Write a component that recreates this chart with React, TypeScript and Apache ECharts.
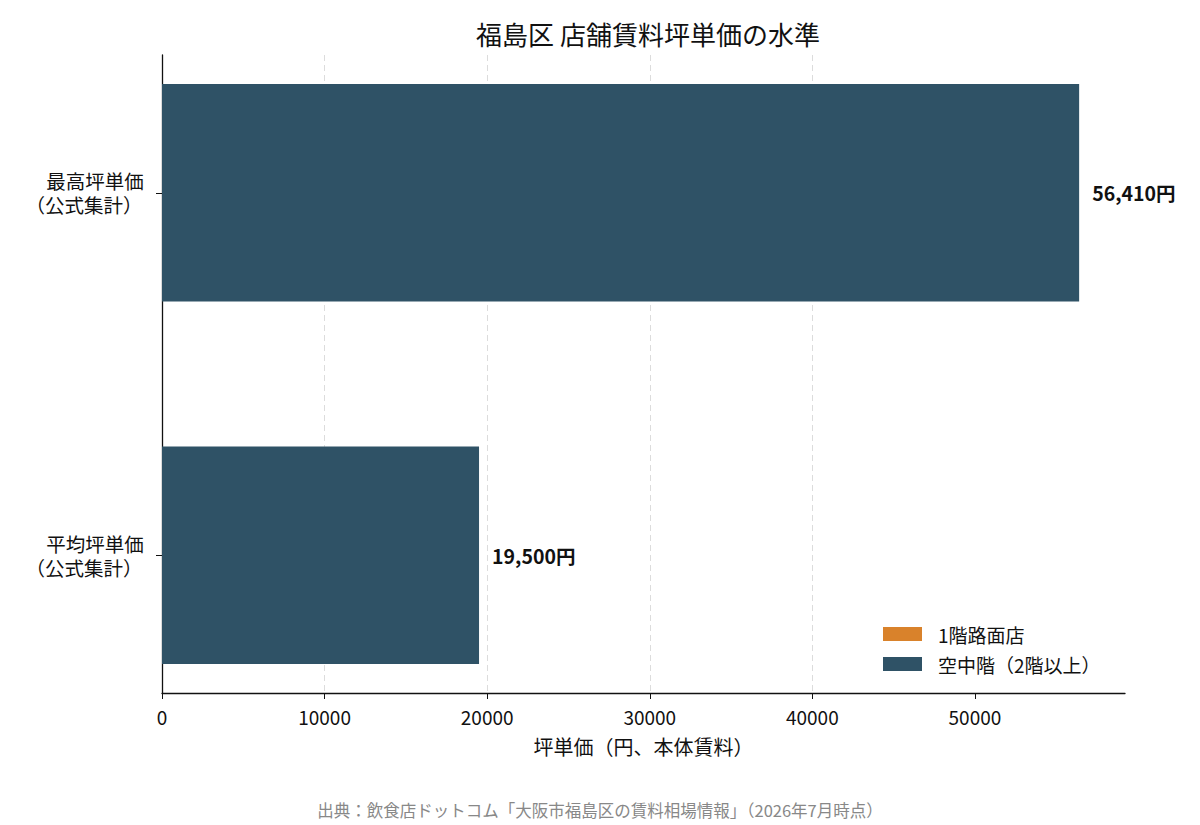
import React, { useEffect, useRef } from "react";
import * as echarts from "echarts";

const categoryMain = ["最高坪単価", "平均坪単価"];
const categorySub = ["（公式集計）", "（公式集計）"];
const seriesNames = ["1階路面店", "空中階（2階以上）"];
const groundFloorValues: (number | null)[] = [null, null];
const upperFloorValues = [56410, 19500];
const xTicks = [0, 10000, 20000, 30000, 40000, 50000];
const titleText = "福島区 店舗賃料坪単価の水準";
const xAxisTitle = "坪単価（円、本体賃料）";
const sourceText = "出典：飲食店ドットコム「大阪市福島区の賃料相場情報」（2026年7月時点）";

const FONT = "'Noto Sans CJK JP', 'Noto Sans', sans-serif";
const ORANGE = "#d9822b";
const NAVY = "#2f5266";

export default function App() {
  const ref = useRef<HTMLDivElement>(null);
  useEffect(() => {
    document.body.style.margin = "0";
    const chart = echarts.init(ref.current!, null, { renderer: "svg" });

    const makeBar = (withLabel: boolean) => (params: any, api: any) => {
      const v = api.value(0);
      const idx = api.value(1);
      const p1 = api.coord([0, idx - 0.3]);
      const p2 = api.coord([v, idx + 0.3]);
      const x = Math.min(p1[0], p2[0]);
      const y = Math.min(p1[1], p2[1]);
      const w = Math.abs(p2[0] - p1[0]);
      const h = Math.abs(p2[1] - p1[1]);
      const children: any[] = [
        { type: "rect", shape: { x, y, width: w, height: h }, style: { fill: api.visual("color") } },
      ];
      if (withLabel) {
        children.push({
          type: "text",
          x: x + w + 13,
          y: y + h / 2,
          style: {
            text: v.toLocaleString("en-US") + "円",
            fontFamily: FONT,
            fontSize: 19.5,
            fontWeight: "bold",
            fill: "#111",
            align: "left",
            verticalAlign: "middle",
          },
        });
      }
      return { type: "group", children };
    };

    const toData = (vals: (number | null)[]) =>
      vals.map((v, i) => (v == null ? null : [v, i])).filter((d) => d != null);

    const maxVal = Math.max(...upperFloorValues);

    chart.setOption({
      animation: false,
      textStyle: { fontFamily: FONT },
      title: {
        text: titleText,
        left: 643,
        textAlign: "center",
        top: 15,
        textStyle: { fontFamily: FONT, fontSize: 26, fontWeight: "normal", color: "#111" },
      },
      legend: {
        data: seriesNames,
        orient: "vertical",
        left: 883,
        top: 624,
        padding: 0,
        icon: "rect",
        itemWidth: 39,
        itemHeight: 14,
        itemGap: 10,
        textStyle: { fontFamily: FONT, fontSize: 19, color: "#111", lineHeight: 20, padding: [0, 0, 0, 11] },
      },
      grid: { left: 162, right: 75, top: 55, bottom: 132 },
      xAxis: {
        type: "value",
        min: 0,
        max: maxVal * 1.05,
        interval: 10000,
        name: xAxisTitle,
        nameLocation: "middle",
        nameGap: 43,
        nameTextStyle: { fontFamily: FONT, fontSize: 20, color: "#111" },
        axisLine: { show: true, onZero: false, lineStyle: { color: "#111", width: 1.3 } },
        axisTick: { show: true, customValues: xTicks, length: 6, lineStyle: { color: "#111" } },
        axisLabel: {
          customValues: xTicks,
          formatter: (v: number) => String(v),
          margin: 14,
          fontFamily: FONT,
          fontSize: 19,
          color: "#111",
        },
        splitLine: {
          show: true,
          showMinLine: false,
          showMaxLine: false,
          lineStyle: { color: "#dcdcdc", type: [6, 4], width: 1 },
        },
      },
      yAxis: {
        type: "value",
        min: -0.38,
        max: 1.38,
        inverse: true,
        axisLine: { show: true, onZero: false, lineStyle: { color: "#111", width: 1.3 } },
        axisTick: { show: true, customValues: [0, 1], length: 6, lineStyle: { color: "#111" } },
        axisLabel: {
          customValues: [0, 1],
          formatter: (v: number) => {
            const i = Math.round(v);
            return "{a|" + categoryMain[i] + "}\n{b|" + categorySub[i] + "}";
          },
          align: "center",
          margin: 67,
          fontFamily: FONT,
          fontSize: 19.5,
          color: "#111",
          rich: {
            a: { fontFamily: FONT, fontSize: 19.5, color: "#111", lineHeight: 24, align: "center" },
            b: { fontFamily: FONT, fontSize: 19.5, color: "#111", lineHeight: 24, align: "center", padding: [0, 22, 0, 0] },
          },
        },
        splitLine: { show: false },
      },
      series: [
        {
          name: seriesNames[0],
          type: "custom",
          itemStyle: { color: ORANGE },
          renderItem: makeBar(true),
          encode: { x: 0, y: 1 },
          data: toData(groundFloorValues),
        },
        {
          name: seriesNames[1],
          type: "custom",
          itemStyle: { color: NAVY },
          renderItem: makeBar(true),
          encode: { x: 0, y: 1 },
          data: toData(upperFloorValues),
        },
      ],
      graphic: [
        {
          type: "text",
          x: 600,
          y: 810,
          style: {
            text: sourceText,
            fontFamily: FONT,
            fontSize: 16.5,
            fill: "#888",
            align: "center",
            verticalAlign: "middle",
          },
        },
      ],
    });
    return () => chart.dispose();
  }, []);
  return <div ref={ref} style={{ width: 1200, height: 825 }} />;
}
